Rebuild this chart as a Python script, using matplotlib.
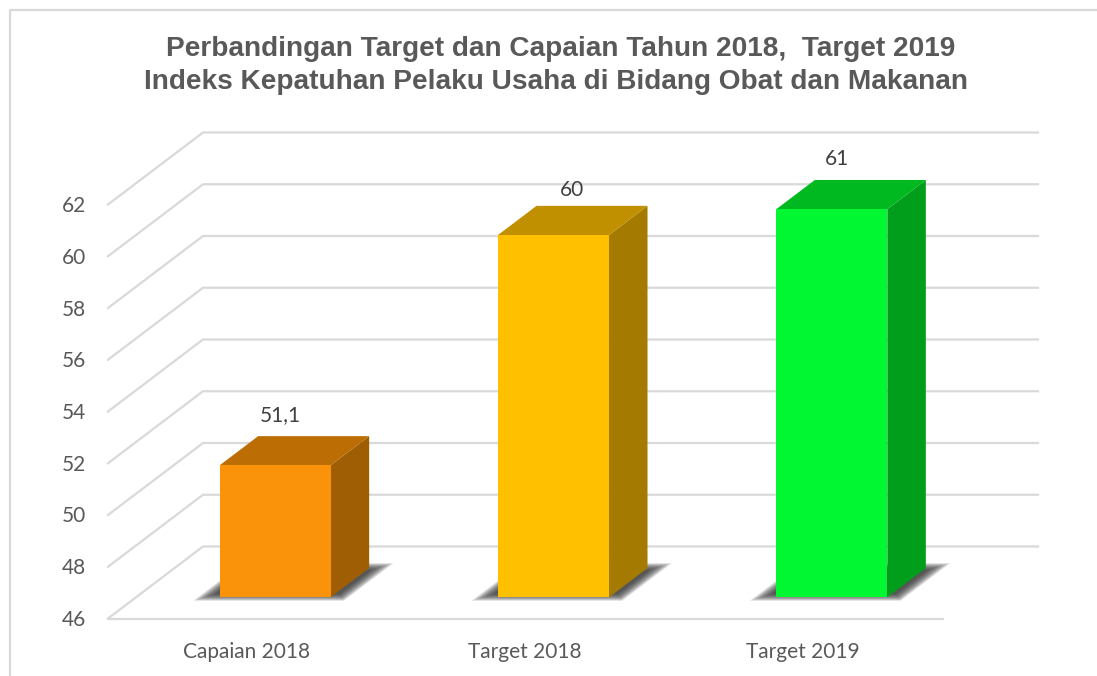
import matplotlib
matplotlib.use("Agg")
import matplotlib.pyplot as plt
from matplotlib.patches import Polygon
from matplotlib.lines import Line2D

categories = ["Capaian 2018", "Target 2018", "Target 2019"]
values = [51.1, 60, 61]
value_labels = ["51,1", "60", "61"]
ticks = [46, 48, 50, 52, 54, 56, 58, 60, 62]
title_lines = ["Perbandingan Target dan Capaian Tahun 2018,  Target 2019",
               "Indeks Kepatuhan Pelaku Usaha di Bidang Obat dan Makanan"]
front_colors = ["#FB930A", "#FFC000", "#00F731"]
top_colors = ["#BC6E05", "#C09000", "#00B920"]
side_colors = ["#9F5D04", "#A47B00", "#009E1B"]

W, H = 1097, 676
fig = plt.figure(figsize=(W / 100, H / 100), dpi=100, facecolor="white")

# Axes covers the front plane of the chart
x0, x1, y46, y62 = 108, 943, 618.5, 204.5
ax = fig.add_axes([x0 / W, 1 - y46 / H, (x1 - x0) / W, (y46 - y62) / H])
ax.set_xlim(-0.5, 2.5)
ax.set_ylim(46, 62)
ax.axis("off")

px_x = (x1 - x0) / 3            # px per category
px_y = (y46 - y62) / 16         # px per value
DEPTH_X = 95 / px_x             # wall depth, data units
DEPTH_Y = 72 / px_y
BAR_D0, BAR_D1 = 0.295, 0.70    # bar depth range (fraction of wall depth)
BAR_W = 111 / px_x
LABEL_FONT = dict(family="Lato", fontsize=15, clip_on=False)
# value label offsets from the bar's front-centre (px)
label_dx = [5.5, 18, 5]
label_dy = [50, 45, 50]

def proj(x, y, d):
    return (x + d * DEPTH_X, y + d * DEPTH_Y)

GRID = "#D9D9D9"
for t in ticks:
    xs = [-0.5, -0.5 + DEPTH_X, 2.5 + DEPTH_X]
    ys = [t, t + DEPTH_Y, t + DEPTH_Y]
    ax.plot(xs, ys, color=GRID, lw=1.6, clip_on=False, solid_joinstyle="miter", zorder=1)
    ax.text(-0.5 - 22 / px_x, t - 1.5 / px_y, str(t), ha="right", va="center",
            color="#595959", **LABEL_FONT)
ax.plot([-0.5, 2.5], [46, 46], color=GRID, lw=1.6, clip_on=False, zorder=1)

for i, (v, lab) in enumerate(zip(values, value_labels)):
    xl, xr = i - BAR_W / 2, i + BAR_W / 2
    # soft shadow on the floor, built from nested translucent layers
    for g in range(5, -10, -1):
        gx, gd = g / px_x, g * 0.5 / 72
        sh = [proj(xl - 17 / px_x - gx, 46, 0.28 - gd),
              proj(xr + 13 / px_x + gx, 46, 0.28 - gd),
              proj(xr + 13 / px_x + gx, 46, 0.735 + gd),
              proj(xl - 17 / px_x - gx, 46, 0.735 + gd)]
        ax.add_patch(Polygon(sh, closed=True, fc="#303030", ec="none", alpha=0.10,
                             clip_on=False, zorder=2))
    front = [proj(xl, 46, BAR_D0), proj(xr, 46, BAR_D0), proj(xr, v, BAR_D0), proj(xl, v, BAR_D0)]
    top = [proj(xl, v, BAR_D0), proj(xr, v, BAR_D0), proj(xr, v, BAR_D1), proj(xl, v, BAR_D1)]
    side = [proj(xr, 46, BAR_D0), proj(xr, 46, BAR_D1), proj(xr, v, BAR_D1), proj(xr, v, BAR_D0)]
    ax.add_patch(Polygon(side, closed=True, fc=side_colors[i], ec="none", clip_on=False, zorder=3))
    ax.add_patch(Polygon(top, closed=True, fc=top_colors[i], ec="none", clip_on=False, zorder=3))
    ax.add_patch(Polygon(front, closed=True, fc=front_colors[i], ec="none", clip_on=False, zorder=4))
    lx, ly = proj(i, v, BAR_D0)
    ax.text(lx + label_dx[i] / px_x, ly + label_dy[i] / px_y, lab, ha="center", va="center",
            color="#404040", zorder=5, **LABEL_FONT)
    ax.text(i - 1 / px_x, 46 - 33 / px_y, categories[i], ha="center", va="center",
            color="#595959", **LABEL_FONT)

for line, cx, cy in zip(title_lines, [561, 556.5], [49, 82]):
    fig.text(cx / W, 1 - cy / H, line, ha="center", va="center", fontsize=20.2, fontweight="bold",
             family="Liberation Sans", color="#595959")

# chart frame
fig.add_artist(Line2D([9.5 / W, 9.5 / W, 1], [0, 1 - 9.5 / H, 1 - 9.5 / H],
                      color="#D9D9D9", lw=1.6))

fig.savefig("out.png", dpi=100)
